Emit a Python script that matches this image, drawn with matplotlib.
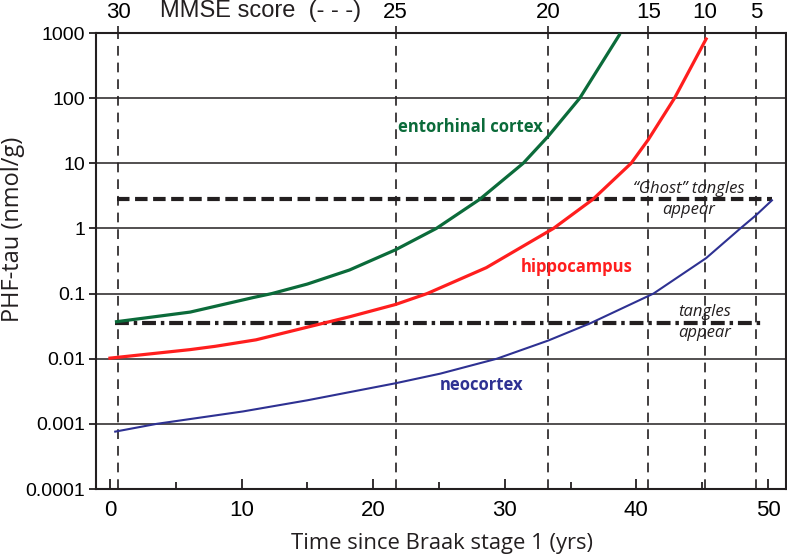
import matplotlib
matplotlib.use("Agg")
import matplotlib.pyplot as plt

# datos (x en años, y en nmol/g)
ento_x = [0.5, 6.1, 10.9, 12.3, 15.0, 18.2, 21.7, 24.8, 28.1, 31.4, 33.3, 35.7, 38.7]
ento_y = [0.037, 0.052, 0.087, 0.10, 0.14, 0.23, 0.47, 1.0, 2.8, 10, 26, 100, 930]

hipp_x = [0.0, 6.1, 8.0, 11.1, 16.2, 18.2, 21.7, 24.1, 28.6, 33.7, 36.7, 39.6, 40.9, 42.9, 45.3]
hipp_y = [0.0102, 0.0138, 0.0155, 0.0195, 0.035, 0.044, 0.068, 0.10, 0.25, 1.0, 2.8, 10, 23, 100, 810]

neo_x = [0.4, 3.55, 10.1, 15.0, 21.7, 25.1, 29.4, 33.3, 36.5, 41.3, 45.3, 47.9, 49.1, 50.3]
neo_y = [0.00076, 0.001, 0.00155, 0.0023, 0.0042, 0.0059, 0.010, 0.019, 0.035, 0.10, 0.35, 1.0, 1.6, 2.7]

# puntuacion MMSE (eje superior) y su posicion en años
mmse_pos = [0.63, 21.7, 33.3, 40.9, 45.2, 49.1]
mmse_lab = ["30", "25", "20", "15", "10", "5"]

ghost_level = 2.8
tangles_level = 0.0356
ghost_span = [0.5, 50.3]
tangles_span = [0.4, 49.6]

plt.rcParams["lines.scale_dashes"] = False
plt.rcParams["font.family"] = "Liberation Sans"

fig = plt.figure(figsize=(7.87, 5.58), dpi=100)
ax = fig.add_axes([96 / 787, 1 - 489 / 558, 690 / 787, 456 / 558])

dark = "#231f20"

ax.set_yscale("log")
ax.set_xlim(-1.06, 51.37)
ax.set_ylim(1e-4, 1e3)

# lineas horizontales en cada decada
ax.yaxis.grid(True, which="major", color=dark, lw=1.1)
ax.set_axisbelow(True)

# lineas verticales MMSE
for p in mmse_pos:
    ax.axvline(p, color=dark, lw=1.2, dashes=(7, 5), zorder=1)

# umbrales
ax.plot(ghost_span, [ghost_level] * 2, color=dark, lw=3.0, dashes=(9, 4), zorder=2)
ax.plot(tangles_span, [tangles_level] * 2, color=dark, lw=3.0,
        dashes=(10, 3.5, 2.5, 3.5), zorder=2)

# curvas
ax.plot(ento_x, ento_y, color="#0b6b3a", lw=2.3, zorder=3)
ax.plot(hipp_x, hipp_y, color="#ff1e1e", lw=2.3, zorder=3)
ax.plot(neo_x, neo_y, color="#2e3192", lw=1.5, zorder=3)

lab_font = "Open Sans"
ax.text(27.4, 36, "entorhinal cortex", color="#0b6b3a", fontsize=12, fontweight="bold",
        ha="center", va="center", family=lab_font)
ax.text(35.5, 0.26, "hippocampus", color="#ff1e1e", fontsize=12, fontweight="bold",
        ha="center", va="center", family=lab_font)
ax.text(28.2, 0.004, "neocortex", color="#2e3192", fontsize=12, fontweight="bold",
        ha="center", va="center", family=lab_font)
ax.text(44.0, ghost_level, "\u201cGhost\u201d tangles\nappear", fontsize=12, style="italic",
        ha="center", va="center", family=lab_font, linespacing=1.45, color=dark)
ax.text(45.2, tangles_level, "tangles\nappear", fontsize=12, style="italic",
        ha="center", va="center", family=lab_font, linespacing=1.45, color=dark)

# ejes
for s in ax.spines.values():
    s.set_color(dark)
    s.set_linewidth(1.5)

ax.set_yticks([1e-4, 1e-3, 1e-2, 1e-1, 1, 10, 100, 1000])
ax.set_yticklabels(["0.0001", "0.001", "0.01", "0.1", "1", "10", "100", "1000"])
ax.yaxis.set_minor_locator(matplotlib.ticker.NullLocator())
ax.tick_params(axis="y", direction="out", length=5, width=1.3, color=dark,
               labelsize=14, pad=3)

ax.set_xticks([0, 10, 20, 30, 40, 50])
ax.set_xticks([5, 15, 25, 35, 45], minor=True)
ax.tick_params(axis="x", which="major", direction="in", length=7, width=1.3,
               color=dark, labelsize=16, pad=8)
ax.tick_params(axis="x", which="minor", direction="in", length=5, width=1.3, color=dark)

fig.text(442 / 787, 1 - 543 / 558, "Time since Braak stage 1 (yrs)", fontsize=15.8,
         family=lab_font, color=dark, ha="center", va="center")
fig.text(13 / 787, 1 - 229 / 558, "PHF-tau (nmol/g)", fontsize=17, family=lab_font,
         color=dark, ha="center", va="center", rotation=90)

# eje superior MMSE
top = ax.twiny()
top.set_xlim(ax.get_xlim())
top.set_xticks(mmse_pos)
top.set_xticklabels(mmse_lab)
top.tick_params(axis="x", direction="out", length=5, width=1.2, color=dark,
                labelsize=16, pad=2)
for s in top.spines.values():
    s.set_visible(False)
ax.text(0.238, 1.048, "MMSE score  (- - -)", transform=ax.transAxes, fontsize=17,
        ha="center", va="center", color=dark)

fig.savefig("out.png", dpi=100)
